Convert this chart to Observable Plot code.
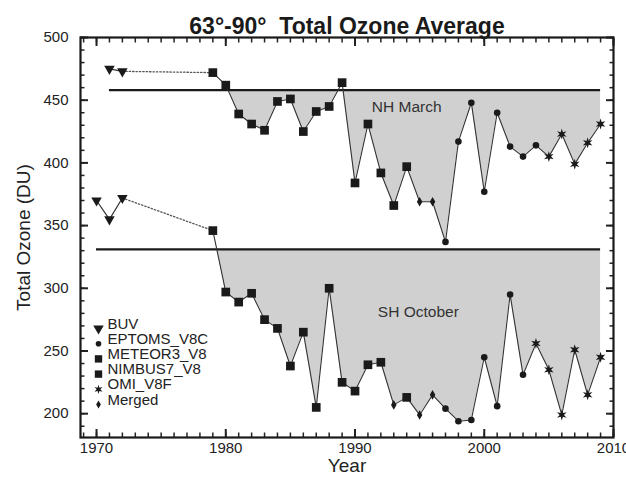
<!DOCTYPE html>
<html><head><meta charset="utf-8">
<script src="https://cdn.jsdelivr.net/npm/d3@7"></script>
<script src="https://cdn.jsdelivr.net/npm/@observablehq/plot@0.6"></script>
<style>
body{margin:0;background:#fff;}
svg text{white-space:pre;}
</style>
</head><body><div id="chart"></div>
<script>
// ---- data ----
const title = "63°-90°  Total Ozone Average";
const yLabel = "Total Ozone (DU)";
const xLabel = "Year";
const buvYearsNH = [1971, 1972];
const buvNH = [475, 473];
const buvYearsSH = [1970, 1971, 1972];
const buvSH = [370, 355, 372];
const years = [1979,1980,1981,1982,1983,1984,1985,1986,1987,1988,1989,1990,1991,1992,1993,1994,1995,1996,1997,1998,1999,2000,2001,2002,2003,2004,2005,2006,2007,2008,2009];
const nhMarch = [472,462,439,431,426,449,451,425,441,445,464,384,431,392,366,397,369,369,337,417,448,377,440,413,405,414,405,423,399,416,431];
const shOctober = [346,297,289,296,275,268,238,265,205,300,225,218,239,241,207,213,199,215,204,194,195,245,206,295,231,256,235,199,251,215,245];
const nhSource = ["N7","N7","N7","N7","N7","N7","N7","N7","N7","N7","N7","N7","N7","N7","N7","M3","MG","MG","EP","EP","EP","EP","EP","EP","EP","EP","OMI","OMI","OMI","OMI","OMI"];
const shSource = ["N7","N7","N7","N7","N7","N7","N7","N7","N7","N7","N7","N7","N7","N7","MG","M3","MG","MG","EP","EP","EP","EP","EP","EP","EP","OMI","OMI","OMI","OMI","OMI","OMI"];
const nhRef = 458;
const shRef = 331;
const nhText = "NH March";
const shText = "SH October";
const legendLabels = ["BUV","EPTOMS_V8C","METEOR3_V8","NIMBUS7_V8","OMI_V8F","Merged"];
const legendCodes = ["BUV","EP","M3","N7","OMI","MG"];
const xTicks = [1970,1980,1990,2000,2010];
const yTicks = [200,250,300,350,400,450,500];

// ---- helpers ----
const star6 = {draw(ctx, size){
  const R = Math.sqrt(size)*0.62, r = R*0.4;
  for(let i=0;i<12;i++){const a=Math.PI/6*i-Math.PI/2, rad=i%2?r:R;
    const x=rad*Math.cos(a), y=rad*Math.sin(a); i?ctx.lineTo(x,y):ctx.moveTo(x,y);}
  ctx.closePath();}};
const symStyle = {
  BUV:{symbol:"triangle", r:3.9, rotate:180},
  EP:{symbol:"circle", r:3.3},
  M3:{symbol:"square", r:4.9},
  N7:{symbol:"square", r:4.9},
  OMI:{symbol:star6, r:5},
  MG:{symbol:"diamond", r:2.9}
};
const ink = "#1a1a1a";
function rows(vals, src){ return years.map((x,i)=>({x, v:vals[i], s:src[i]})); }
function belowFill(vals, ref){
  const out=[];
  for(let i=0;i<years.length;i++){
    const x=years[i], v=vals[i];
    if(i>0){const x0=years[i-1], v0=vals[i-1];
      if((v0-ref)*(v-ref)<0){const t=(ref-v0)/(v-v0); out.push({x:x0+t*(x-x0), y2:ref});}}
    out.push({x, y2:Math.min(v,ref)});
  }
  return out;
}
const nhRows = rows(nhMarch, nhSource);
const shRows = rows(shOctober, shSource);
const buvRowsNH = buvYearsNH.map((x,i)=>({x, v:buvNH[i]}));
const buvRowsSH = buvYearsSH.map((x,i)=>({x, v:buvSH[i]}));
const allPts = [...nhRows, ...shRows];

const marks = [
  Plot.areaY(belowFill(nhMarch, nhRef), {x:"x", y1:nhRef, y2:"y2", fill:"#d0d0d0"}),
  Plot.areaY(belowFill(shOctober, shRef), {x:"x", y1:shRef, y2:"y2", fill:"#d0d0d0"}),
  Plot.ruleY([nhRef], {x1:buvYearsNH[0], x2:years[years.length-1], stroke:ink, strokeWidth:2.4}),
  Plot.ruleY([shRef], {x1:buvYearsSH[0], x2:years[years.length-1], stroke:ink, strokeWidth:2.4}),
  Plot.line([buvRowsNH[buvRowsNH.length-1], nhRows[0]], {x:"x", y:"v", stroke:"#555", strokeWidth:1.3, strokeDasharray:"1.4,2"}),
  Plot.line([buvRowsSH[buvRowsSH.length-1], shRows[0]], {x:"x", y:"v", stroke:"#555", strokeWidth:1.3, strokeDasharray:"1.4,2"}),
  Plot.line(buvRowsNH, {x:"x", y:"v", stroke:"#333", strokeWidth:1.2}),
  Plot.line(buvRowsSH, {x:"x", y:"v", stroke:"#333", strokeWidth:1.2}),
  Plot.line(nhRows, {x:"x", y:"v", stroke:"#333", strokeWidth:1.1}),
  Plot.line(shRows, {x:"x", y:"v", stroke:"#333", strokeWidth:1.1}),
  Plot.dot([...buvRowsNH, ...buvRowsSH], {x:"x", y:"v", symbol:"triangle", r:3.9, rotate:180, fill:ink, stroke:"none"}),
  ...["EP","M3","N7","OMI","MG"].map(c => Plot.dot(allPts.filter(d=>d.s===c), {x:"x", y:"v", symbol:symStyle[c].symbol, r:symStyle[c].r, fill:ink, stroke:"none"})),
  Plot.text([nhText], {x:1994.0, y:444.5, fontSize:15.5, fill:"#333"}),
  Plot.text([shText], {x:1994.9, y:281, fontSize:15.5, fill:"#333"}),
  // legend
  ...legendCodes.map((c,i)=>Plot.dot([c], {frameAnchor:"bottom-left", dx:18, dy:-109+15.2*i, symbol:symStyle[c].symbol, r:symStyle[c].r*(c==="BUV"?1:0.85), rotate:symStyle[c].rotate||0, fill:ink, stroke:"none"})),
  ...legendLabels.map((t,i)=>Plot.text([t], {frameAnchor:"bottom-left", dx:27, dy:-109+15.2*i, textAnchor:"start", fontSize:15, fill:"#222"})),
  // axes: ticks inward on all four sides
  Plot.axisY({anchor:"left", ticks:yTicks, tickSize:0, tickPadding:12, label:null, fontSize:15}),
  Plot.axisY({anchor:"left", ticks:yTicks, tickSize:-8, text:null, label:null, strokeWidth:2}),
  Plot.axisY({anchor:"left", ticks:d3.range(190,501,10), tickSize:-4.5, text:null, label:null, strokeWidth:1.5}),
  Plot.axisY({anchor:"right", ticks:yTicks, tickSize:-8, text:null, label:null, strokeWidth:2}),
  Plot.axisY({anchor:"right", ticks:d3.range(190,501,10), tickSize:-4.5, text:null, label:null, strokeWidth:1.5}),
  Plot.axisX({anchor:"bottom", ticks:xTicks, tickSize:0, tickPadding:5, tickFormat:d=>String(d), label:null, fontSize:15}),
  Plot.axisX({anchor:"bottom", ticks:xTicks, tickSize:-8, text:null, label:null, strokeWidth:2}),
  Plot.axisX({anchor:"bottom", ticks:d3.range(1969,2011), tickSize:-4.5, text:null, label:null, strokeWidth:1.5}),
  Plot.axisX({anchor:"top", ticks:xTicks, tickSize:-8, text:null, label:null, strokeWidth:2}),
  Plot.axisX({anchor:"top", ticks:d3.range(1969,2011), tickSize:-4.5, text:null, label:null, strokeWidth:1.5}),
  Plot.frame({stroke:ink, strokeWidth:2.2}),
  // titles
  Plot.text([title], {frameAnchor:"top", dy:-20, fontSize:23, fontWeight:"bold", fill:"#1a1a1a"}),
  Plot.text([yLabel], {frameAnchor:"left", dx:-57, rotate:-90, textAnchor:"middle", fontSize:19, fill:"#222"}),
  Plot.text([xLabel], {frameAnchor:"bottom", dy:34, fontSize:19, fill:"#222"})
];

const chart = Plot.plot({
  width:626, height:482,
  marginTop:37, marginLeft:80, marginRight:13, marginBottom:45,
  x:{domain:[1968.76, 2010]},
  y:{domain:[181, 500]},
  style:{fontFamily:"'Liberation Sans', Arial, Helvetica, sans-serif", fontSize:"15px", color:"#222", background:"#fff", overflow:"visible"},
  marks
});
document.getElementById("chart").append(chart);
</script></body></html>
